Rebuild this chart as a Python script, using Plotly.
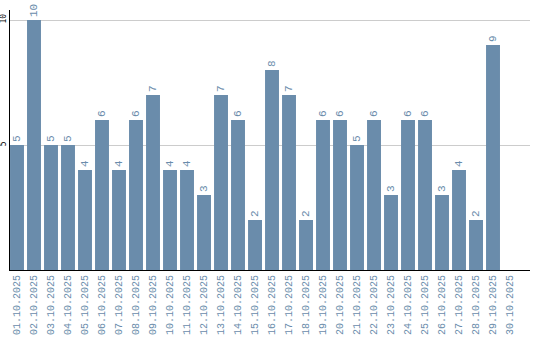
import plotly.graph_objects as go

dates = [f"{d:02d}.10.2025" for d in range(1, 31)]
values = [5, 10, 5, 5, 4, 6, 4, 6, 7, 4, 4, 3, 7, 6, 2, 8, 7, 2, 6, 6, 5, 6, 3, 6, 6, 3, 4, 2, 9, None]
labels = ["" if v is None else str(v) for v in values]
y_ticks = [5, 10]
y_tick_labels = ["5", "10"]

bar_color = "#6a8cab"
font_fam = "Liberation Mono, DejaVu Sans Mono, monospace"

fig = go.Figure(go.Bar(
    x=dates, y=values, text=labels,
    textposition="outside", textangle=-90, constraintext="none",
    textfont=dict(family=font_fam, size=11, color=bar_color),
    marker=dict(color=bar_color, line=dict(width=0)),
    width=0.82, cliponaxis=False, hoverinfo="skip",
))

fig.update_layout(
    width=540, height=340,
    margin=dict(l=10, r=10, t=10, b=70),
    paper_bgcolor="white", plot_bgcolor="white",
    showlegend=False,
    xaxis=dict(type="category", range=[-0.412, 30.176], tickangle=-90,
               tickfont=dict(family=font_fam, size=10, color=bar_color),
               showgrid=False, showline=True, linecolor="black", linewidth=1,
               ticks="", zeroline=False, automargin=False),
    yaxis=dict(range=[0, 10.4], tickvals=y_ticks, ticktext=y_tick_labels, tickangle=-90,
               tickfont=dict(family="DejaVu Sans Mono, monospace", size=8, color="black"),
               showgrid=True, gridcolor="#cccccc", gridwidth=1,
               showline=True, linecolor="black", linewidth=1,
               ticks="", zeroline=False, ticklabelstandoff=0, automargin=False),
)

fig.write_html("out.html")
